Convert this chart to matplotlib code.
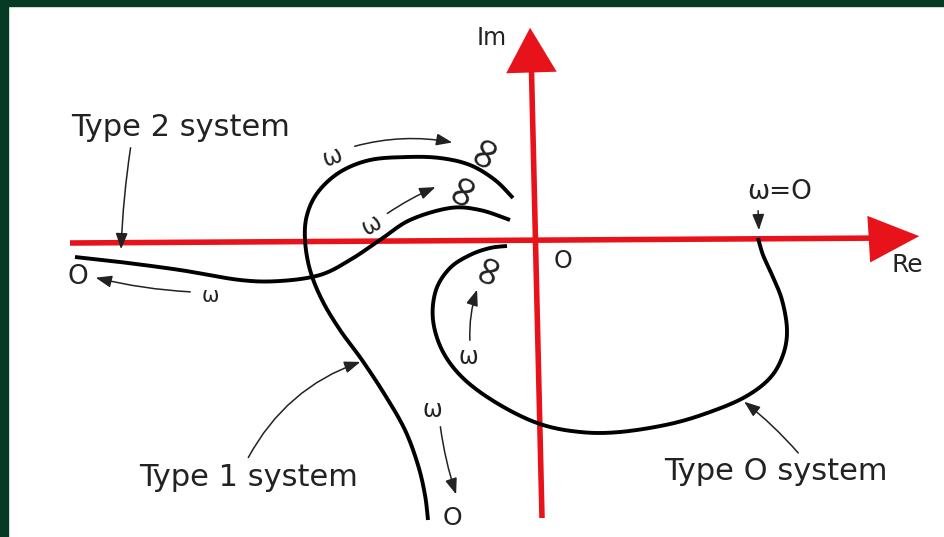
import numpy as np
import matplotlib.pyplot as plt
from matplotlib.patches import FancyArrowPatch, Rectangle

# Sketch coordinates (pixels, y downward) of the three polar plots
type0_x = [758, 763, 772, 782, 787, 783, 770, 745, 710, 670, 620, 580, 540, 500, 465, 443, 433, 436, 450, 470, 490, 507]
type0_y = [238, 255, 275, 300, 330, 355, 378, 397, 412, 424, 432, 432, 424, 405, 380, 352, 320, 290, 268, 255, 248, 246]

type1_x = [513, 495, 470, 440, 407, 370, 340, 318, 307, 305, 310, 322, 340, 362, 385, 405, 418, 425, 428]
type1_y = [198, 180, 165, 158, 157, 160, 172, 192, 215, 240, 270, 300, 330, 360, 395, 430, 465, 495, 520]

type2_x = [75, 120, 180, 240, 280, 320, 350, 380, 410, 450, 480, 510]
type2_y = [257, 262, 270, 280, 281, 275, 260, 240, 220, 208, 210, 220]

labels = ["Type 2 system", "Type 1 system", "Type O system"]

FONT = "DejaVu Sans"


def smooth(xs, ys, n=20):
    # Catmull-Rom pass so the hand-drawn curves come out round
    p = np.column_stack([xs, ys]).astype(float)
    p = np.vstack([p[0], p, p[-1]])
    out = []
    for i in range(1, len(p) - 2):
        p0, p1, p2, p3 = p[i - 1], p[i], p[i + 1], p[i + 2]
        t = np.linspace(0, 1, n, endpoint=False)[:, None]
        out.append(0.5 * ((2 * p1) + (-p0 + p2) * t + (2 * p0 - 5 * p1 + 4 * p2 - p3) * t ** 2
                          + (-p0 + 3 * p1 - 3 * p2 + p3) * t ** 3))
    out.append(p[-2][None, :])
    out = np.vstack(out)
    return out[:, 0], out[:, 1]


fig = plt.figure(figsize=(9.45, 5.37), dpi=100)
ax = fig.add_axes([0, 0, 1, 1])
ax.set_xlim(0, 945)
ax.set_ylim(537, 0)
ax.axis("off")

# dark frame on the top and left edges
ax.add_patch(Rectangle((0, 0), 945, 6, color="#053a24", zorder=10))
ax.add_patch(Rectangle((0, 0), 8, 537, color="#053a24", zorder=10))

red = "#e8121a"
# real axis
ax.plot([70, 890], [243, 238], color=red, lw=4, solid_capstyle="butt", zorder=3)
ax.add_patch(FancyArrowPatch((880, 238.5), (922, 236), arrowstyle="-|>,head_length=2.6,head_width=1.2",
                             mutation_scale=14, color=red, lw=0, zorder=3))
# imaginary axis
ax.plot([542, 531], [518, 50], color=red, lw=4, solid_capstyle="butt", zorder=3)
ax.add_patch(FancyArrowPatch((531, 58), (530, 25), arrowstyle="-|>,head_length=2.3,head_width=1.3",
                             mutation_scale=14, color=red, lw=0, zorder=3))

for xs, ys in [(type0_x, type0_y), (type1_x, type1_y), (type2_x, type2_y)]:
    sx, sy = smooth(xs, ys)
    ax.plot(sx, sy, color="black", lw=2.8, solid_capstyle="butt", zorder=4)

txt = dict(color="#222222", family=FONT, ha="center", va="center", zorder=5)
ax.text(181, 127, labels[0], fontsize=22, **txt)
ax.text(249, 477, labels[1], fontsize=22, **txt)
ax.text(776, 472, labels[2], fontsize=22, **txt)
ax.text(492, 38, "Im", fontsize=17, **txt)
ax.text(907, 265, "Re", fontsize=18, **txt)
ax.text(563, 261, "O", fontsize=17, **txt)
ax.text(78, 277, "O", fontsize=19, **txt)
ax.text(452, 518, "O", fontsize=18, **txt)
ax.text(780, 192, "ω=O", fontsize=19, **txt)

# omega and infinity marks along the curves
ax.text(210, 296, "ω", fontsize=15, **txt)
ax.text(332, 157, "ω", fontsize=17, rotation=20, **txt)
ax.text(372, 225, "ω", fontsize=17, rotation=30, **txt)
ax.text(468, 357, "ω", fontsize=17, **txt)
ax.text(432, 410, "ω", fontsize=17, **txt)
ax.text(484, 150, "∞", fontsize=32, rotation=65, **txt)
ax.text(462, 188, "∞", fontsize=32, rotation=65, **txt)
ax.text(488, 267, "∞", fontsize=30, rotation=70, **txt)

arr = dict(arrowstyle="-|>,head_length=0.8,head_width=0.3", mutation_scale=12,
           color="#222222", lw=1.1, zorder=5)
# direction-of-omega arrows
ax.add_patch(FancyArrowPatch((352, 147), (455, 143), connectionstyle="arc3,rad=-0.12", **arr))
ax.add_patch(FancyArrowPatch((385, 215), (438, 186), connectionstyle="arc3,rad=-0.05", **arr))
ax.add_patch(FancyArrowPatch((470, 343), (478, 287), connectionstyle="arc3,rad=-0.1", **arr))
ax.add_patch(FancyArrowPatch((440, 424), (457, 497), connectionstyle="arc3,rad=0.05", **arr))
ax.add_patch(FancyArrowPatch((193, 292), (93, 277), connectionstyle="arc3,rad=-0.05", **arr))
# label pointers
ax.add_patch(FancyArrowPatch((131, 145), (121, 252), connectionstyle="arc3,rad=0.03", **arr))
ax.add_patch(FancyArrowPatch((247, 460), (363, 361), connectionstyle="arc3,rad=-0.2", **arr))
ax.add_patch(FancyArrowPatch((800, 455), (742, 400), connectionstyle="arc3,rad=0.05", **arr))
ax.add_patch(FancyArrowPatch((758, 208), (759, 233), **arr))

fig.savefig("out.png", dpi=100, facecolor="white")
